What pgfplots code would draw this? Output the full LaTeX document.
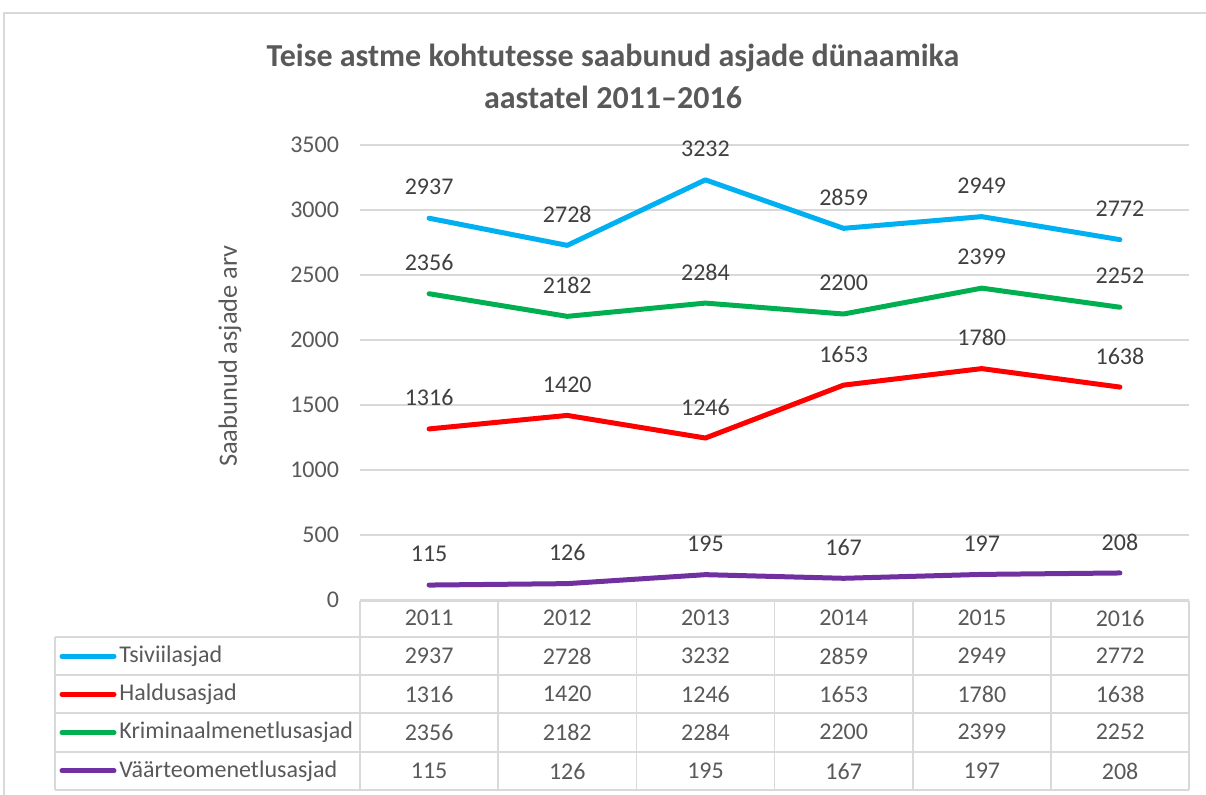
\documentclass[border=0pt]{standalone}
\usepackage{fontspec}
\setmainfont{Carlito}
\usepackage{pgfplots}
\usepackage{pgfplotstable}
\pgfplotsset{compat=1.18}

\definecolor{txt}{HTML}{595959}
\definecolor{dtxt}{HTML}{404040}
\definecolor{grd}{HTML}{D9D9D9}
\definecolor{cTs}{HTML}{00B0F0}
\definecolor{cHal}{HTML}{FF0000}
\definecolor{cKrim}{HTML}{00B050}
\definecolor{cVaa}{HTML}{7030A0}

\pgfplotsset{/pgf/number format/1000 sep={}}

\pgfplotstableread{
i year ts hal krim vaa
0 2011 2937 1316 2356 115
1 2012 2728 1420 2182 126
2 2013 3232 1246 2284 195
3 2014 2859 1653 2200 167
4 2015 2949 1780 2399 197
5 2016 2772 1638 2252 208
}\data

\newcommand\lbl{\fontsize{12}{14}\selectfont}
\newcommand\axlbl{\fontsize{13.2}{16}\selectfont}

\begin{document}
\begin{tikzpicture}
\begin{scope}[x=0.5pt,y=-0.5pt]
\useasboundingbox (0,0) rectangle (1206,794);
\draw[grd, line width=0.8pt] (4,800) -- (4,13) -- (1215,13);

\node[font=\fontsize{16}{19}\selectfont\bfseries, text=txt, align=center] at (613,76)
  {Teise astme kohtutesse saabunud asjade dünaamika\\[2pt]aastatel 2011–2016};
\node[rotate=90, font=\axlbl, text=txt] at (230,356) {Saabunud asjade arv};

% data table below the plot
\begin{scope}[grd, line width=0.8pt]
\draw (360,601) -- (1189,601);
\foreach \y in {637,675,713,752,790} \draw (55,\y) -- (1189,\y);
\draw (55,637) -- (55,790);
\foreach \x in {360,498.2,636.4,774.6,912.8,1051,1189.2} \draw (\x,601) -- (\x,790);
\end{scope}

\foreach \c/\n [count=\r] in {cTs/Tsiviilasjad, cHal/Haldusasjad, cKrim/Kriminaalmenetlusasjad, cVaa/Väärteomenetlusasjad} {
  \pgfmathsetmacro\yy{637+38.25*(\r-0.5)}
  \draw[\c, line width=2.5pt, line cap=round] (62,\yy) -- (114,\yy);
  \node[anchor=west, font=\lbl, text=txt, inner sep=0pt] at (119,\yy) {\n};
}

\foreach \i in {0,...,5} {
  \pgfmathsetmacro\xx{429.1+138.2*\i}
  \pgfplotstablegetelem{\i}{year}\of\data
  \node[font=\lbl, text=txt] at (\xx,618) {\pgfplotsretval};
  \pgfplotstablegetelem{\i}{ts}\of\data
  \node[font=\lbl, text=txt] at (\xx,656) {\pgfplotsretval};
  \pgfplotstablegetelem{\i}{hal}\of\data
  \node[font=\lbl, text=txt] at (\xx,694) {\pgfplotsretval};
  \pgfplotstablegetelem{\i}{krim}\of\data
  \node[font=\lbl, text=txt] at (\xx,732) {\pgfplotsretval};
  \pgfplotstablegetelem{\i}{vaa}\of\data
  \node[font=\lbl, text=txt] at (\xx,771) {\pgfplotsretval};
}
\end{scope}

\begin{axis}[
  at={(180pt,-300pt)}, anchor=south west,
  scale only axis, width=414.5pt, height=227.5pt,
  xmin=-0.5, xmax=5.5, ymin=0, ymax=3500,
  xtick=\empty, ytick={0,500,...,3500},
  ymajorgrids, grid style={grd, line width=0.8pt},
  axis line style={draw=none}, major tick length=0pt,
  yticklabel style={font=\lbl, text=txt, xshift=-7pt},
  /pgf/number format/assume math mode=true,
  clip=false,
  nodes near coords,
  every node near coord/.append style={font=\lbl, text=dtxt, anchor=center, yshift=15.5pt},
  every axis plot/.append style={line width=2.5pt, line join=round, line cap=round},
]
\addplot[cTs] table[x=i, y=ts] {\data};
\addplot[cHal] table[x=i, y=hal] {\data};
\addplot[cKrim] table[x=i, y=krim] {\data};
\addplot[cVaa] table[x=i, y=vaa] {\data};
\end{axis}
\end{tikzpicture}
\end{document}
